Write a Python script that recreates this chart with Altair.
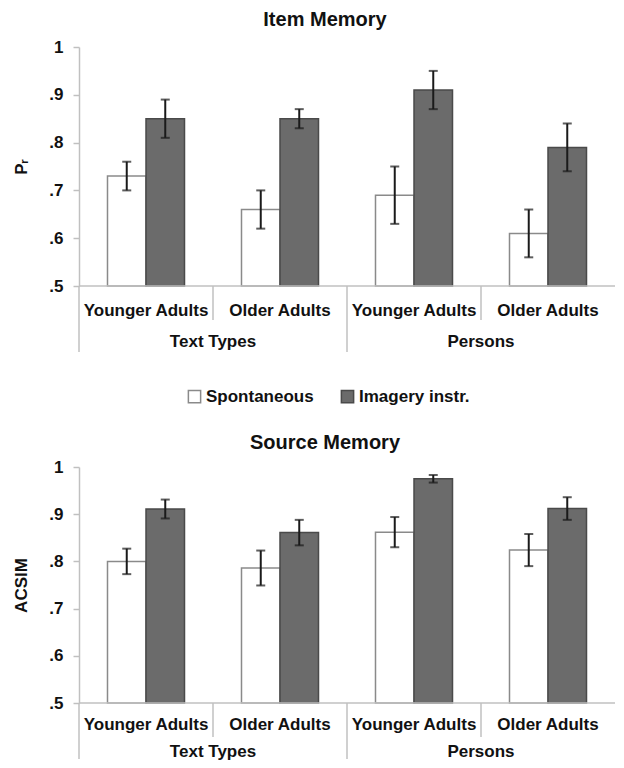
import altair as alt
import pandas as pd

# ---- data ----
groups = ["Text Types", "Text Types", "Persons", "Persons"]
ages = ["Younger Adults", "Older Adults", "Younger Adults", "Older Adults"]
conditions = ["Spontaneous", "Imagery instr."]

item_spont = [0.73, 0.66, 0.69, 0.61]
item_spont_err = [0.03, 0.04, 0.06, 0.05]
item_imag = [0.85, 0.85, 0.91, 0.79]
item_imag_err = [0.04, 0.02, 0.04, 0.05]

source_spont = [0.800, 0.786, 0.862, 0.824]
source_spont_err = [0.027, 0.037, 0.032, 0.034]
source_imag = [0.911, 0.861, 0.975, 0.912]
source_imag_err = [0.020, 0.027, 0.008, 0.024]

y_ticks = [0.5, 0.6, 0.7, 0.8, 0.9, 1.0]

FONT = "Liberation Sans"
TXT = "#111111"
AXC = "#c0c0c0"
W = 536
keys = [f"{g}|{a}" for g, a in zip(groups, ages)]


def panel(spont, spont_err, imag, imag_err, title, ytitle, H, title_offset,
          group_dy, long_len, legend, label_pad):
    rows = []
    for i, k in enumerate(keys):
        rows.append(dict(key=k, cond=conditions[0], value=spont[i],
                         lo=spont[i] - spont_err[i], hi=spont[i] + spont_err[i]))
        rows.append(dict(key=k, cond=conditions[1], value=imag[i],
                         lo=imag[i] - imag_err[i], hi=imag[i] + imag_err[i]))
    df = pd.DataFrame(rows)

    xscale = alt.Scale(domain=keys, paddingInner=0, paddingOuter=0)
    xaxis = alt.Axis(title=None, domain=False, ticks=False, labelAngle=0,
                     labelExpr="split(datum.label, '|')[1]", labelFont=FONT,
                     labelFontSize=17, labelFontWeight="bold", labelColor=TXT,
                     labelPadding=label_pad)
    yscale = alt.Scale(domain=[0.5, 1.0], zero=False, nice=False)
    yaxis = alt.Axis(values=y_ticks, grid=False, title=ytitle,
                     labelExpr="datum.value == 1 ? '1' : replace(format(datum.value, '.1f'), '0.', '.')",
                     labelFont=FONT, labelFontSize=17, labelFontWeight="bold",
                     labelColor=TXT, labelPadding=10, tickSize=6, tickColor=AXC,
                     tickWidth=1.5, domainColor=AXC, domainWidth=1.5,
                     titleFont=FONT, titleFontSize=17, titleFontWeight="bold",
                     titleColor=TXT, titlePadding=18)
    xoff = alt.XOffset("cond:N", scale=alt.Scale(domain=conditions,
                                                  paddingInner=0, paddingOuter=0.74))
    fill = alt.Fill("cond:N", scale=alt.Scale(domain=conditions,
                                              range=["#ffffff", "#6b6b6b"]),
                    legend=alt.Legend(orient="none", legendX=107, legendY=341,
                                      direction="horizontal", title=None,
                                      symbolType="square", symbolSize=150,
                                      symbolStrokeColor="#555555",
                                      symbolStrokeWidth=1.5, labelFont=FONT,
                                      labelFontSize=17, labelFontWeight="bold",
                                      labelColor=TXT, columnPadding=24,
                                      labelOffset=3) if legend else None)
    stroke = alt.Stroke("cond:N", scale=alt.Scale(domain=conditions,
                                                  range=["#8a8a8a", "#4a4a4a"]),
                        legend=None)

    base = alt.Chart(df)
    bars = base.mark_bar(strokeWidth=1.5).encode(
        x=alt.X("key:N", scale=xscale, axis=xaxis, sort=keys),
        xOffset=xoff,
        y=alt.Y("value:Q", scale=yscale, axis=yaxis),
        y2=alt.datum(0.5),
        fill=fill, stroke=stroke)
    err = base.mark_rule(color="#1a1a1a", strokeWidth=2).encode(
        x=alt.X("key:N", scale=xscale, axis=xaxis, sort=keys),
        xOffset=xoff,
        y=alt.Y("lo:Q", scale=yscale, axis=yaxis), y2="hi:Q")
    cap_lo = base.mark_tick(color="#1a1a1a", thickness=2, size=9).encode(
        x=alt.X("key:N", scale=xscale, axis=xaxis, sort=keys),
        xOffset=xoff,
        y=alt.Y("lo:Q", scale=yscale, axis=yaxis))
    cap_hi = base.mark_tick(color="#1a1a1a", thickness=2, size=9).encode(
        x=alt.X("key:N", scale=xscale, axis=xaxis, sort=keys),
        xOffset=xoff,
        y=alt.Y("hi:Q", scale=yscale, axis=yaxis))

    baseline = alt.Chart(pd.DataFrame({"v": [0.5]})).mark_rule(
        color=AXC, strokeWidth=1.5).encode(
        x=alt.value(0), x2=alt.value(W),
        y=alt.Y("v:Q", scale=yscale, axis=yaxis))

    long_df = pd.DataFrame({"key": [keys[0], keys[2]]})
    short_df = pd.DataFrame({"key": [keys[1], keys[3]]})
    long_sep = alt.Chart(long_df).mark_rule(color=AXC, strokeWidth=1.5).encode(
        x=alt.X("key:N", scale=xscale, axis=xaxis, bandPosition=0, sort=keys),
        y=alt.value(H), y2=alt.value(H + long_len))
    short_sep = alt.Chart(short_df).mark_rule(color=AXC, strokeWidth=1.5).encode(
        x=alt.X("key:N", scale=xscale, axis=xaxis, bandPosition=0, sort=keys),
        y=alt.value(H), y2=alt.value(H + 34))

    grp_df = pd.DataFrame({"key": [keys[0], keys[2]], "label": [groups[0], groups[2]]})
    grp = alt.Chart(grp_df).mark_text(font=FONT, fontSize=17, fontWeight="bold",
                                      color=TXT, baseline="middle", align="center").encode(
        x=alt.X("key:N", scale=xscale, axis=xaxis, bandPosition=1, sort=keys),
        y=alt.value(H + group_dy), text="label:N")

    return alt.layer(bars, err, cap_lo, cap_hi, baseline, long_sep, short_sep, grp).properties(
        width=W, height=H,
        title=alt.Title(title, font=FONT, fontSize=20, fontWeight="bold",
                        color=TXT, anchor="middle", dx=-22, offset=title_offset))


top = panel(item_spont, item_spont_err, item_imag, item_imag_err,
            "Item Memory", "Pᵣ", 239, 8, 56, 66, True, 16)
bottom = panel(source_spont, source_spont_err, source_imag, source_imag_err,
               "Source Memory", "ACSIM", 236, 5, 49, 56, False, 13)

chart = alt.vconcat(top, bottom, spacing=27).resolve_scale(
    fill="independent", stroke="independent").properties(
    padding={"left": 4, "top": 2, "right": 0, "bottom": 0},
    background="white"
).configure_view(stroke=None)

chart.save("out.html", embed_options={"renderer": "svg", "actions": False})
